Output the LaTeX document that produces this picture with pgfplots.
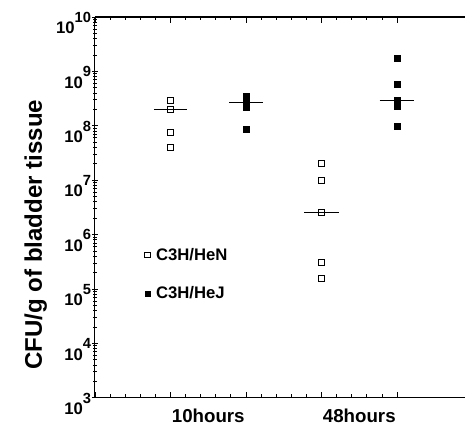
\documentclass[border=0pt]{standalone}
\usepackage{fontspec}
\setmainfont{Liberation Sans}
\usepackage{pgfplots}
\pgfplotsset{compat=1.18}

% bold "10" with a raised exponent, as in the scanned figure
\newcommand{\dec}[1]{\textbf{10}\raisebox{8.6pt}{\fontsize{11}{11}\selectfont\textbf{#1}}}

\begin{document}
\begin{tikzpicture}
\begin{axis}[
  scale only axis,
  width=277pt, height=285pt,
  xmin=0, xmax=4.9,
  ymode=log, ymin=1e3, ymax=1e10,
  axis x line=box, axis y line=left,
  axis line style={-, line width=0.8pt},
  every tick/.style={black, line width=0.6pt},
  major tick length=4.5pt, minor tick length=2.5pt,
  xtick={0,1,2,3,4}, xticklabels={},
  minor x tick num=4,
  extra x ticks={1.5,3.5},
  extra x tick labels={10hours,48hours},
  extra x tick style={major tick length=0pt,
    tick label style={font=\fontsize{14}{16}\selectfont\bfseries, yshift=-5pt}},
  ytick={1e3,1e4,1e5,1e6,1e7,1e8,1e9,1e10},
  minor ytick={2e3,3e3,4e3,5e3,6e3,7e3,8e3,9e3,
    2e4,3e4,4e4,5e4,6e4,7e4,8e4,9e4,
    2e5,3e5,4e5,5e5,6e5,7e5,8e5,9e5,
    2e6,3e6,4e6,5e6,6e6,7e6,8e6,9e6,
    2e7,3e7,4e7,5e7,6e7,7e7,8e7,9e7,
    2e8,3e8,4e8,5e8,6e8,7e8,8e8,9e8,
    2e9,3e9,4e9,5e9,6e9,7e9,8e9,9e9},
  yticklabels={\dec{3},\dec{4},\dec{5},\dec{6},\dec{7},\dec{8},\dec{9},\dec{10}},
  yticklabel style={font=\fontsize{12.5}{13}\selectfont\bfseries,
    inner xsep=0pt, xshift=-0.5pt, yshift=-4.5pt},
  ylabel={CFU/g of bladder tissue},
  ylabel style={font=\fontsize{18}{20}\selectfont\bfseries,
    at={(axis description cs:-0.16,0.428)}, anchor=center},
  legend style={draw=none, fill=none, inner sep=0pt,
    at={(axis description cs:0.125,0.324)}, anchor=west,
    font=\fontsize{12.5}{14}\selectfont\bfseries,
    row sep=14.5pt, /tikz/every even column/.append style={column sep=3pt}},
  legend cell align=left,
  legend image code/.code={\path (0cm,0cm) (0.3cm,0cm);
    \draw[#1, mark size=2pt] plot coordinates {(0.15cm,0cm)};},
]
% C3H/HeN (open squares)
\addplot[only marks, mark=square, mark size=2.4pt,
  mark options={draw=black, fill=white, line width=0.6pt}] coordinates {
  (1,2.96e8) (1,2.0e8) (1,7.6e7) (1,4.0e7)
  (3,2.05e7) (3,1.0e7) (3,2.56e6) (3,3.08e5) (3,1.56e5)
};
\addlegendentry{C3H/HeN}
% C3H/HeJ (filled squares)
\addplot[only marks, mark=square*, mark size=2.4pt,
  mark options={draw=black, fill=black}] coordinates {
  (2,3.5e8) (2,2.6e8) (2,2.2e8) (2,8.6e7)
  (4,1.76e9) (4,5.8e8) (4,2.96e8) (4,2.3e8) (4,9.8e7)
};
\addlegendentry{C3H/HeJ}
% medians
\addplot[black, line width=0.9pt, forget plot] coordinates {(0.78,2.0e8) (1.22,2.0e8)};
\addplot[black, line width=0.9pt, forget plot] coordinates {(1.78,2.7e8) (2.22,2.7e8)};
\addplot[black, line width=0.9pt, forget plot] coordinates {(2.77,2.56e6) (3.23,2.56e6)};
\addplot[black, line width=0.9pt, forget plot] coordinates {(3.77,2.96e8) (4.23,2.96e8)};
\coordinate (bbl) at (axis description cs:-0.2566,-0.0789);
\coordinate (bbr) at (axis description cs:1.0,1.0447);
\end{axis}
\pgfresetboundingbox
\path (bbl) rectangle (bbr);
\end{tikzpicture}
\end{document}
